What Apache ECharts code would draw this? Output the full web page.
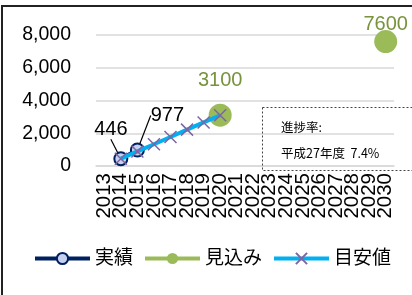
<!DOCTYPE html>
<html>
<head>
<meta charset="utf-8">
<title>進捗</title>
<script src="https://cdn.jsdelivr.net/npm/echarts@6/dist/echarts.min.js"></script>
<style>
  html, body { margin: 0; padding: 0; background: #fff; }
  #main { width: 412px; height: 295px; }
</style>
</head>
<body>
<div id="main"></div>
<script>
// 年度
var years = ['2013','2014','2015','2016','2017','2018','2019','2020','2021','2022',
             '2023','2024','2025','2026','2027','2028','2029','2030'];
// 実績
var jisseki = [null, 446, 977, null, null, null, null, null, null, null,
               null, null, null, null, null, null, null, null];
// 見込み
var mikomi = [null, null, null, null, null, null, null, 3100, null, null,
              null, null, null, null, null, null, null, 7600];
// 目安値
var meyasu = [null, 446, 890, 1330, 1770, 2220, 2660, 3100, null, null,
              null, null, null, null, null, null, null, null];
var yTicks = [0, 2000, 4000, 6000, 8000];

var FONT = '"Liberation Sans", Arial, "Noto Sans CJK JP", sans-serif';
var myChart = echarts.init(document.getElementById('main'));

var option = {
    backgroundColor: '#fff',
    textStyle: { fontFamily: FONT },
    animation: false,
    grid: { left: 96, right: 18, top: 35, bottom: 129 },
    legend: {
        data: ['実績', '見込み', '目安値'],
        bottom: 22,
        left: 28,
        itemWidth: 55,
        itemHeight: 14,
        itemGap: 10,
        lineStyle: { width: 4 },
        textStyle: { fontSize: 19, color: '#000', fontFamily: FONT }
    },
    xAxis: {
        type: 'category',
        data: years,
        boundaryGap: true,
        axisLine: { lineStyle: { color: '#d9d9d9', width: 1.5 } },
        axisTick: { show: false },
        axisLabel: { rotate: 90, interval: 0, fontSize: 20.5, color: '#000', margin: 7 }
    },
    yAxis: {
        type: 'value',
        min: yTicks[0],
        max: yTicks[yTicks.length - 1],
        interval: 2000,
        axisLine: { show: false },
        axisTick: { show: false },
        splitLine: { lineStyle: { color: '#d9d9d9', width: 1.5 } },
        axisLabel: {
            fontSize: 19.5, color: '#000', margin: 25,
            formatter: function (v) { return v.toLocaleString('en-US'); }
        }
    },
    series: [
        {
            name: '実績',
            type: 'line',
            z: 3,
            data: jisseki,
            symbol: 'circle',
            symbolSize: 13,
            lineStyle: { color: '#002060', width: 4 },
            itemStyle: { color: '#c5d1ef', borderColor: '#002060', borderWidth: 2 },
            label: { show: true, position: 'top', fontSize: 20, color: '#000' },
            labelLine: { show: true, lineStyle: { color: '#000', width: 1.2 } },
            labelLayout: function (params) {
                if (params.dataIndex === 1) return { dx: -10, dy: -7 };
                return { dx: 30, dy: -12 };
            }
        },
        {
            name: '見込み',
            type: 'line',
            z: 2,
            data: mikomi,
            connectNulls: false,
            symbol: 'circle',
            symbolSize: 23,
            lineStyle: { color: '#9bbb59', width: 4 },
            itemStyle: { color: '#9bbb59' },
            label: {
                show: true, position: 'top', fontSize: 20, color: '#77933c',
                distance: 0
            },
            labelLayout: function (params) {
                if (params.dataIndex === 7) return { dy: -13 };
                return { dy: 4 };
            }
        },
        {
            name: '目安値',
            type: 'line',
            z: 4,
            data: meyasu,
            symbol: 'path://M0,0L10,10M10,0L0,10',
            symbolSize: 12,
            lineStyle: { color: '#00b0f0', width: 4 },
            itemStyle: { color: 'rgba(0,0,0,0)', borderColor: '#8064a2', borderWidth: 1.5 }
        }
    ],
    graphic: [
        { type: 'line', shape: { x1: 2, y1: 5, x2: 2, y2: 295 },
          style: { stroke: '#222', lineWidth: 2 } },
        { type: 'line', shape: { x1: 1, y1: 6, x2: 412, y2: 6 },
          style: { stroke: '#222', lineWidth: 2 } },
        { type: 'rect', z: 10, shape: { x: 262.5, y: 107.5, width: 160, height: 63 },
          style: { fill: 'none', stroke: '#444', lineWidth: 1, lineDash: [2, 2] } },
        { type: 'text', z: 11, left: 281, top: 121,
          style: { text: '進捗率:', fontSize: 12.5, fill: '#000',
                   fontFamily: '"Noto Sans CJK JP", sans-serif' } },
        { type: 'text', z: 11, left: 281, top: 147,
          style: { text: '平成27年度  7.4%', fontSize: 12.5, fill: '#000',
                   fontFamily: '"Noto Sans CJK JP", sans-serif' } }
    ]
};
myChart.setOption(option);
</script>
</body>
</html>
